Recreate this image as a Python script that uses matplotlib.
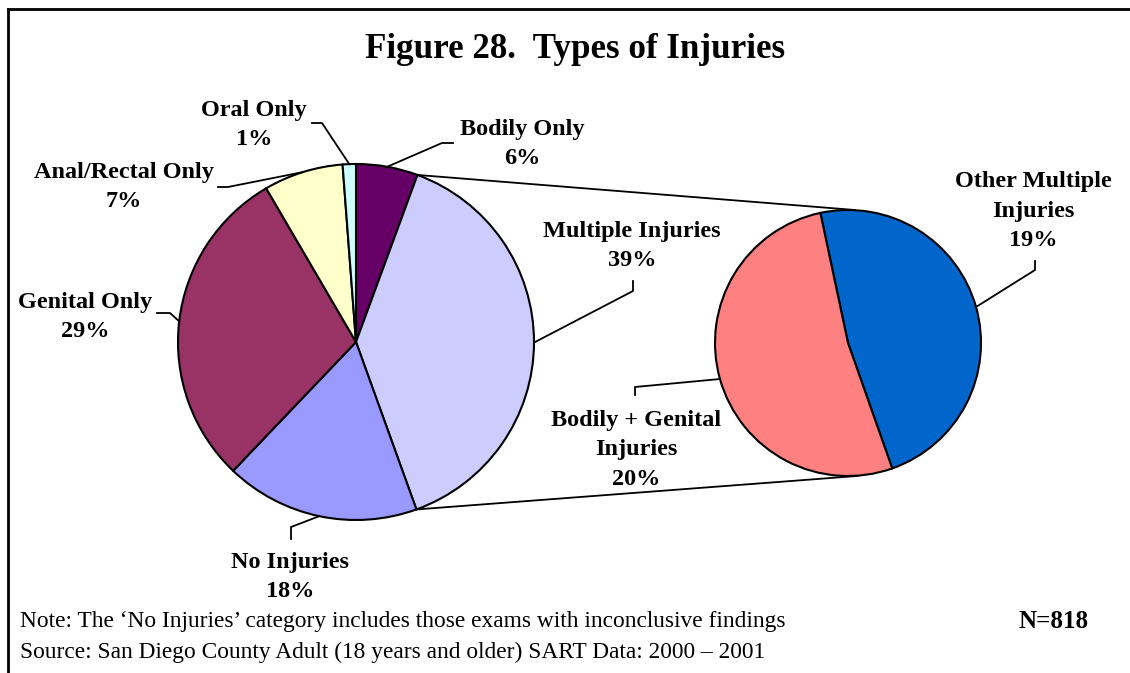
import numpy as np
import matplotlib
matplotlib.use("Agg")
import matplotlib.pyplot as plt

# Data (percent of exams) ======================
MAIN_LABELS = ["Bodily Only", "Multiple Injuries", "No Injuries",
               "Genital Only", "Anal/Rectal Only", "Oral Only"]
MAIN_VALUES = [5.6, 38.8, 17.6, 29.4, 7.2, 1.2]
MAIN_COLORS = ["#660066", "#CCCCFF", "#9999FF", "#993366", "#FFFFCC", "#CCFFFF"]

SUB_LABELS = ["Other Multiple\nInjuries", "Bodily + Genital\nInjuries"]
SUB_VALUES = [18.6, 20.2]
SUB_COLORS = ["#0066CC", "#FF8080"]

TITLE = "Figure 28.  Types of Injuries"
NOTE = "Note: The \u2018No Injuries\u2019 category includes those exams with inconclusive findings"
SOURCE = "Source: San Diego County Adult (18 years and older) SART Data: 2000 \u2013 2001"
N_TEXT = "N=818"
# ==============================================

plt.rcParams["font.family"] = ["Liberation Serif", "DejaVu Serif"]

W, H = 1130, 673
fig = plt.figure(figsize=(W / 100, H / 100), dpi=100)
ax = fig.add_axes([0, 0, 1, 1])

# pixel coordinates, y pointing down -> angles mirrored
MAIN_C, MAIN_R = (356, 342), 178
SUB_C, SUB_R = (848, 343), 133
wp = dict(edgecolor="black", linewidth=1.5)

main_w, _ = ax.pie(MAIN_VALUES, colors=MAIN_COLORS, center=MAIN_C, radius=MAIN_R,
                   startangle=-90, counterclock=True, wedgeprops=wp, normalize=True)
sub_w, _ = ax.pie(SUB_VALUES, colors=SUB_COLORS, center=SUB_C, radius=SUB_R,
                  startangle=-102, counterclock=True, wedgeprops=wp, normalize=True)


def edge_pt(c, r, deg):
    t = np.deg2rad(deg)
    return c[0] + r * np.cos(t), c[1] + r * np.sin(t)


# connector lines from "Multiple Injuries" wedge to the second pie
mw = main_w[1]
p1 = edge_pt(MAIN_C, MAIN_R, mw.theta1)
p2 = edge_pt(MAIN_C, MAIN_R, mw.theta2)
ax.plot([p1[0], SUB_C[0] + 7], [p1[1], SUB_C[1] - SUB_R], color="black", lw=1.3)
ax.plot([p2[0], SUB_C[0] + 9], [p2[1], SUB_C[1] + SUB_R], color="black", lw=1.3)

# label layout: text center, leader start, leader elbow
main_layout = [
    ((522, 144), (453, 143), (442, 143)),
    ((632, 246), (633, 281), (633, 291)),
    ((290, 577), (291, 539), (291, 527)),
    ((85, 317), (157, 313), (170, 313)),
    ((124, 187), (218, 187), (228, 187)),
    ((254, 125), (312, 123), (322, 123)),
]
sub_layout = [
    ((1033, 211), (1035, 261), (1035, 270)),
    ((636, 450), (635, 395), (635, 387)),
]


def draw_labels(wedges, labels, values, layout, c, r):
    for w, lab, v, (tp, sp, ep) in zip(wedges, labels, values, layout):
        mid = (w.theta1 + w.theta2) / 2
        e = edge_pt(c, r, mid)
        ax.plot([sp[0], ep[0], e[0]], [sp[1], ep[1], e[1]], color="black", lw=1.3)
        ax.text(tp[0], tp[1], f"{lab}\n{v:.0f}%", ha="center", va="center",
                fontsize=17.5, fontweight="bold", linespacing=1.55)


draw_labels(main_w, MAIN_LABELS, MAIN_VALUES, main_layout, MAIN_C, MAIN_R)
draw_labels(sub_w, SUB_LABELS, SUB_VALUES, sub_layout, SUB_C, SUB_R)

ax.text(575, 50, TITLE, ha="center", va="center", fontsize=25.2, fontweight="bold")
ax.text(20, 622, NOTE, ha="left", va="center", fontsize=16.8)
ax.text(20, 652, SOURCE, ha="left", va="center", fontsize=16.8)
ax.text(1089, 622, N_TEXT, ha="right", va="center", fontsize=18, fontweight="bold")

# frame (top and left edges)
ax.plot([8, W], [9, 9], color="black", lw=2)
ax.plot([8, 8], [9, H], color="black", lw=2)

ax.set_xlim(0, W)
ax.set_ylim(H, 0)
ax.set_aspect("equal")
ax.axis("off")

fig.savefig("out.png", dpi=100)
